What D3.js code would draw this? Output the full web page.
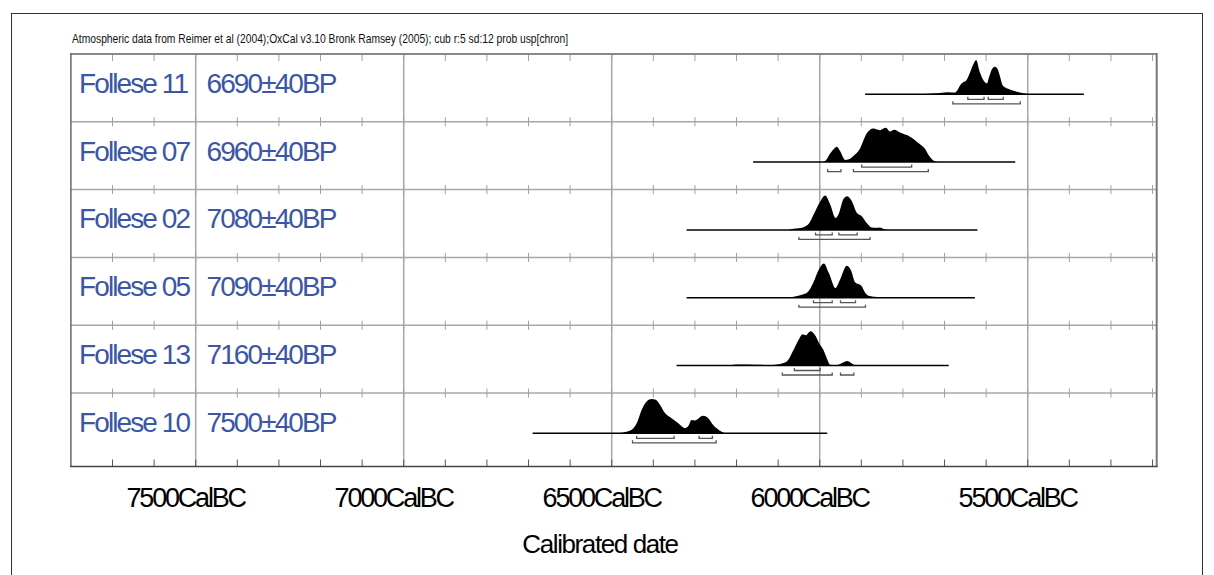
<!DOCTYPE html>
<html>
<head>
<meta charset="utf-8">
<script src="https://cdn.jsdelivr.net/npm/d3@7"></script>
<style>
  body { margin: 0; background: #fff; }
  svg { display: block; font-family: "Liberation Sans", Arial, sans-serif; }
</style>
</head>
<body>
<div id="chart"></div>
<script>
// sample names and radiocarbon ages
var names = ["Follese 11", "Follese 07", "Follese 02", "Follese 05", "Follese 13", "Follese 10"];
var bpLabels = ["6690\u00b140BP", "6960\u00b140BP", "7080\u00b140BP", "7090\u00b140BP", "7160\u00b140BP", "7500\u00b140BP"];

// extent of the base line of each plot (years BC)
var lineExtents = [[5891, 5365], [6160, 5530], [6320, 5621], [6320, 5627], [6344, 5690], [6690, 5982]];

// 68.2% ranges (upper brackets) and 95.4% ranges (lower brackets)
var ranges68 = [
  [[5644, 5605], [5595, 5559]],
  [[5899, 5779]],
  [[6010, 5970], [5954, 5910]],
  [[6015, 5970], [5950, 5914]],
  [[6061, 5999]],
  [[6440, 6350], [6290, 6258]]
];
var ranges95 = [
  [[5680, 5518]],
  [[5981, 5949], [5919, 5739]],
  [[6050, 5879]],
  [[6050, 5890]],
  [[6090, 5970], [5950, 5918]],
  [[6450, 6249]]
];

// calibrated probability curves [year BC, relative probability]
var dist11 = [[5760,0],[5711,4],[5690,6],[5675,5],[5671,9],[5660,30],[5655,35],[5648,40],[5640,60],[5631,87],[5624,100],[5615,64],[5605,38],[5598,32],[5593,50],[5585,75],[5579,80],[5572,72],[5568,58],[5559,24],[5543,14],[5530,9],[5519,5],[5500,1],[5490,0]];
var dist07 = [[5995,0],[5987,3],[5975,25],[5965,40],[5959,45],[5950,30],[5943,12],[5939,6],[5930,8],[5919,18],[5903,40],[5887,84],[5871,98],[5862,95],[5855,93],[5848,97],[5841,100],[5831,89],[5821,94],[5807,86],[5783,74],[5759,52],[5747,39],[5738,20],[5731,9],[5719,0]];
var dist02 = [[6075,0],[6063,3],[6039,8],[6025,20],[6015,44],[5999,82],[5987,100],[5975,75],[5962,35],[5955,45],[5943,90],[5934,98],[5923,84],[5911,50],[5899,40],[5887,20],[5875,7],[5865,6],[5855,7],[5845,2],[5835,0]];
var dist05 = [[6075,0],[6063,3],[6045,8],[6030,15],[6015,45],[6003,80],[5990,100],[5978,72],[5962,28],[5952,50],[5935,93],[5925,80],[5915,45],[5900,35],[5890,13],[5880,5],[5860,2],[5840,0]];
var dist13 = [[6215,0],[6200,3],[6170,3],[6143,2],[6120,1],[6103,3],[6079,12],[6063,45],[6051,74],[6041,91],[6034,88],[6022,100],[6011,88],[6001,64],[5991,45],[5983,21],[5975,2],[5960,0],[5950,5],[5940,11],[5934,13],[5925,8],[5915,1],[5905,0]];
var dist10 = [[6485,0],[6472,2],[6452,10],[6440,29],[6428,69],[6416,93],[6404,100],[6394,98],[6384,83],[6372,59],[6356,44],[6340,29],[6324,15],[6316,21],[6308,39],[6300,37],[6281,51],[6268,44],[6256,24],[6241,8],[6228,0]];
var dists = [dist11, dist07, dist02, dist05, dist13, dist10];

var majorTicks = [7500, 7000, 6500, 6000, 5500];
var minorTicks = d3.range(7700, 5199, -100);
var headerText = "Atmospheric data from Reimer et al (2004);OxCal v3.10 Bronk Ramsey (2005); cub r:5 sd:12 prob usp[chron]";

var width = 1214, height = 575;
var plotLeft = 70.9, plotRight = 1156.7, plotTop = 54, rowH = 67.8, axisY = 466.5;

var svg = d3.select("#chart").append("svg")
  .attr("width", width)
  .attr("height", height);

var x = d3.scaleLinear().domain([7800, 5190]).range([plotLeft, plotRight]);
var row = d3.scaleBand().domain(names).range([plotTop, plotTop + rowH * names.length]);
var yProb = d3.scaleLinear().domain([0, 100]).range([0, -34.3]);

// outer frame
svg.append("rect")
  .attr("x", 11.5).attr("y", 13.5)
  .attr("width", 1191).attr("height", 600)
  .attr("fill", "none").attr("stroke", "#333").attr("stroke-width", 1);

svg.append("text")
  .attr("x", 72).attr("y", 43)
  .attr("font-size", 13)
  .attr("textLength", 496)
  .attr("lengthAdjust", "spacingAndGlyphs")
  .attr("fill", "#111")
  .text(headerText);

// major grid lines
svg.append("g").selectAll("line")
  .data(majorTicks).enter().append("line")
  .attr("x1", function(d) { return x(d); })
  .attr("x2", function(d) { return x(d); })
  .attr("y1", plotTop).attr("y2", axisY)
  .attr("stroke", "#a8a8a8").attr("stroke-width", 1.5);

// row separators with crossing ticks
names.slice(1).forEach(function(n) {
  var yy = row(n);
  svg.append("line")
    .attr("x1", plotLeft).attr("x2", plotRight)
    .attr("y1", yy).attr("y2", yy)
    .attr("stroke", "#a8a8a8").attr("stroke-width", 1.5);
  svg.append("g").selectAll("line")
    .data(minorTicks).enter().append("line")
    .attr("x1", function(d) { return x(d); })
    .attr("x2", function(d) { return x(d); })
    .attr("y1", yy - 4.5).attr("y2", yy + 4.5)
    .attr("stroke", "#a0a0a0").attr("stroke-width", 1);
});

// top ticks
svg.append("g").selectAll("line")
  .data(minorTicks).enter().append("line")
  .attr("x1", function(d) { return x(d); })
  .attr("x2", function(d) { return x(d); })
  .attr("y1", plotTop).attr("y2", plotTop + 7)
  .attr("stroke", "#a0a0a0").attr("stroke-width", 1);

// bottom ticks
svg.append("g").selectAll("line")
  .data(minorTicks).enter().append("line")
  .attr("x1", function(d) { return x(d); })
  .attr("x2", function(d) { return x(d); })
  .attr("y1", axisY - 7).attr("y2", axisY)
  .attr("stroke", "#555").attr("stroke-width", 1);

// plot frame
svg.append("line").attr("x1", plotLeft).attr("x2", plotRight).attr("y1", plotTop).attr("y2", plotTop)
  .attr("stroke", "#888").attr("stroke-width", 2);
svg.append("line").attr("x1", plotRight).attr("x2", plotRight).attr("y1", plotTop - 1).attr("y2", axisY)
  .attr("stroke", "#777").attr("stroke-width", 2);
svg.append("line").attr("x1", plotLeft).attr("x2", plotLeft).attr("y1", plotTop - 1).attr("y2", axisY)
  .attr("stroke", "#666").attr("stroke-width", 1.5);
svg.append("line").attr("x1", plotLeft - 1).attr("x2", plotRight + 1).attr("y1", axisY).attr("y2", axisY)
  .attr("stroke", "#444").attr("stroke-width", 1.5);

// labels
var labelG = svg.append("g")
  .attr("font-size", 28)
  .attr("letter-spacing", "-1.9px")
  .attr("fill", "#3b56a5");
labelG.selectAll(".name")
  .data(names).enter().append("text")
  .attr("x", 79)
  .attr("y", function(d) { return row(d) + 38.7; })
  .text(function(d) { return d; });
labelG.selectAll(".bp")
  .data(bpLabels).enter().append("text")
  .attr("x", 206.5)
  .attr("y", function(d, i) { return row(names[i]) + 38.7; })
  .text(function(d) { return d; });

// distributions
var area = d3.area()
  .x(function(d) { return x(d[0]); })
  .y0(0)
  .y1(function(d) { return yProb(d[1]); })
  .curve(d3.curveMonotoneX);

function bracket(g, r, dy, h) {
  g.selectAll(null)
    .data(r).enter().append("path")
    .attr("d", function(d) {
      return "M" + x(d[0]) + "," + (dy - h) + "V" + dy + "H" + x(d[1]) + "V" + (dy - h);
    })
    .attr("fill", "none")
    .attr("stroke", "#555")
    .attr("stroke-width", 1.3);
}

names.forEach(function(n, i) {
  var base = row(n) + 40.3;
  var g = svg.append("g").attr("transform", "translate(0," + base + ")");
  g.append("path")
    .datum(dists[i])
    .attr("d", area)
    .attr("fill", "#000");
  g.append("line")
    .attr("x1", x(lineExtents[i][0])).attr("x2", x(lineExtents[i][1]))
    .attr("y1", 0).attr("y2", 0)
    .attr("stroke", "#000").attr("stroke-width", 1.5);
  bracket(g, ranges68[i], 5, 2.5);
  bracket(g, ranges95[i], 9.5, 2.5);
});

// axis labels
svg.append("g").selectAll("text")
  .data(majorTicks).enter().append("text")
  .attr("x", function(d) { return x(d) - 10; })
  .attr("y", 507)
  .attr("text-anchor", "middle")
  .attr("font-size", 27)
  .attr("letter-spacing", "-2.2px")
  .attr("fill", "#000")
  .text(function(d) { return d + "CalBC"; });

svg.append("text")
  .attr("x", 600).attr("y", 553)
  .attr("text-anchor", "middle")
  .attr("font-size", 26)
  .attr("letter-spacing", "-1.4px")
  .attr("fill", "#000")
  .text("Calibrated date");
</script>
</body>
</html>
